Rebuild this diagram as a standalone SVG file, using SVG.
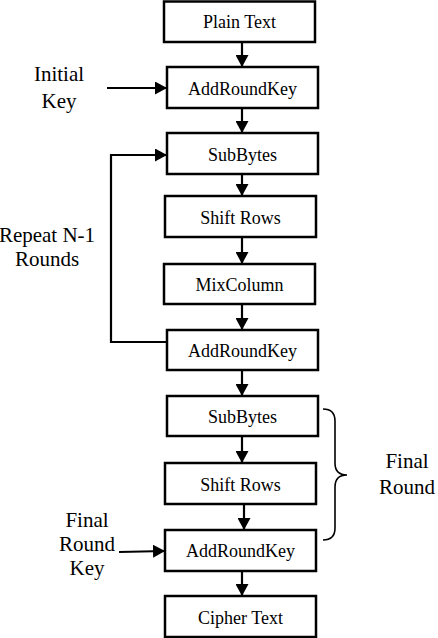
<svg xmlns="http://www.w3.org/2000/svg" width="438" height="638" viewBox="0 0 438 638">
<style>
.box{fill:#fff;stroke:#000;stroke-width:2.5}
text{font-family:'Liberation Serif','DejaVu Serif','Times New Roman',serif;fill:#000;text-anchor:middle}
.bt{font-size:18px}
.lb{font-size:21px}
.ln{fill:none;stroke:#000;stroke-width:2.2}
.br{fill:none;stroke:#000;stroke-width:1.6}
</style>
<defs>
<marker id="ah" markerUnits="userSpaceOnUse" markerWidth="13" markerHeight="13" refX="12" refY="6.5" orient="auto">
<path d="M0,0 L12,6.5 L0,13 Z" fill="#000"/>
</marker>
</defs>
<g id="connectors">
<line class="ln" x1="242" y1="42" x2="242" y2="67" marker-end="url(#ah)"/>
<line class="ln" x1="242" y1="108" x2="242" y2="133" marker-end="url(#ah)"/>
<line class="ln" x1="242" y1="174" x2="242" y2="196" marker-end="url(#ah)"/>
<line class="ln" x1="242" y1="237" x2="242" y2="264" marker-end="url(#ah)"/>
<line class="ln" x1="242" y1="304" x2="242" y2="330" marker-end="url(#ah)"/>
<line class="ln" x1="242" y1="370" x2="242" y2="396" marker-end="url(#ah)"/>
<line class="ln" x1="242" y1="436" x2="242" y2="463" marker-end="url(#ah)"/>
<line class="ln" x1="244" y1="504" x2="244" y2="530" marker-end="url(#ah)"/>
<line class="ln" x1="242" y1="571" x2="242" y2="596" marker-end="url(#ah)"/>
<line class="ln" x1="107" y1="88" x2="167" y2="88" marker-end="url(#ah)"/>
<polyline class="ln" points="167,342 111,342 111,155 167,155" marker-end="url(#ah)"/>
<line class="ln" x1="119" y1="552" x2="165" y2="551" marker-end="url(#ah)"/>
<path class="br" d="M323,409 Q335,409 335,421 L335,463 Q335,475 347,475 Q335,475 335,487 L335,528 Q335,540 323,540"/>
</g>
<g id="plain-text"><rect class="box" x="164" y="1.5" width="151" height="40.5"/><text class="bt" x="239.5" y="28" font-family="Liberation Serif, serif">Plain Text</text></g>
<g id="addroundkey-1"><rect class="box" x="167" y="67" width="151" height="41"/><text class="bt" x="242.5" y="95">AddRoundKey</text></g>
<g id="subbytes-1"><rect class="box" x="167" y="133" width="151" height="41"/><text class="bt" x="242.5" y="161">SubBytes</text></g>
<g id="shiftrows-1"><rect class="box" x="165" y="196" width="151" height="41"/><text class="bt" x="240.5" y="224">Shift Rows</text></g>
<g id="mixcolumn"><rect class="box" x="164" y="264" width="151" height="40"/><text class="bt" x="239.5" y="291">MixColumn</text></g>
<g id="addroundkey-2"><rect class="box" x="167" y="330" width="151" height="40"/><text class="bt" x="242.5" y="357">AddRoundKey</text></g>
<g id="subbytes-2"><rect class="box" x="167" y="396" width="151" height="40"/><text class="bt" x="242.5" y="423">SubBytes</text></g>
<g id="shiftrows-2"><rect class="box" x="165" y="463" width="151" height="41"/><text class="bt" x="240.5" y="491">Shift Rows</text></g>
<g id="addroundkey-3"><rect class="box" x="165" y="530" width="151" height="41"/><text class="bt" x="240.5" y="557">AddRoundKey</text></g>
<g id="cipher-text"><rect class="box" x="165" y="596" width="151" height="41"/><text class="bt" x="240.5" y="624">Cipher Text</text></g>
<g id="initial-key"><text class="lb" x="59" y="81">Initial</text><text class="lb" x="59" y="108">Key</text></g>
<g id="repeat-label"><text class="lb" x="47" y="242">Repeat N-1</text><text class="lb" x="47" y="266">Rounds</text></g>
<g id="final-round"><text class="lb" x="407" y="468">Final</text><text class="lb" x="407" y="494">Round</text></g>
<g id="final-round-key"><text class="lb" x="87" y="527">Final</text><text class="lb" x="87" y="551">Round</text><text class="lb" x="87" y="575">Key</text></g>
</svg>
